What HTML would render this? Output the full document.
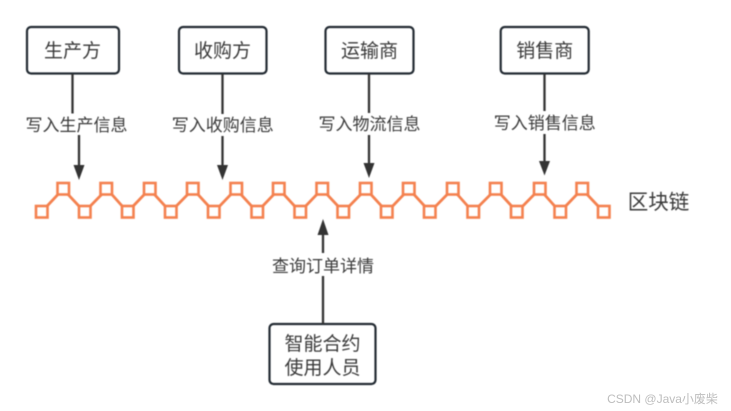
<!DOCTYPE html>
<html>
<head>
<meta charset="utf-8">
<style>
html,body{margin:0;padding:0;background:#fff;}
body{width:731px;height:411px;overflow:hidden;}
svg{display:block;}
text{font-family:"Liberation Sans","Noto Sans CJK SC",sans-serif;fill:#3a3a3a;text-anchor:middle;}
.b{fill:#fff;stroke:#232b33;stroke-width:2.2;}
.l{stroke:#333;stroke-width:2.3;fill:none;}
.h{fill:#333;}
.t{font-size:19px;}
.s{font-size:17px;}
.sq{fill:#fff;stroke:#f4814f;stroke-width:2.6;}
</style>
</head>
<body>
<svg width="731" height="411" viewBox="0 0 731 411" xmlns="http://www.w3.org/2000/svg">
<g style="filter:blur(0.4px)">
<rect class="b" x="27" y="27" width="92" height="46.500" rx="4"/>
<rect class="b" x="179" y="27" width="87.500" height="46.500" rx="4"/>
<rect class="b" x="325.500" y="27" width="88" height="46.500" rx="4"/>
<rect class="b" x="500.700" y="27" width="88" height="46.500" rx="4"/>
<rect class="b" x="269.500" y="324" width="106" height="60" rx="4"/>

<text class="t" x="72.500" y="57">生产方</text>
<text class="t" x="222.500" y="57">收购方</text>
<text class="t" x="369.500" y="57">运输商</text>
<text class="t" x="544.800" y="57">销售商</text>
<text class="t" x="322.500" y="350">智能合约</text>
<text class="t" x="322.500" y="374">使用人员</text>

<path class="l" d="M72.500 74V113.500M79 135V166"/>
<path class="h" d="M73.500 165H84.500L79 180Z"/>
<path class="l" d="M222.500 74V114M222.500 136V166"/>
<path class="h" d="M217 165H228L222.500 180Z"/>
<path class="l" d="M369 74V113M369 135V164"/>
<path class="h" d="M363.500 163H374.500L369 178Z"/>
<path class="l" d="M544.500 74V111M544.500 134V162"/>
<path class="h" d="M539 161H550L544.500 175.500Z"/>
<path class="l" d="M323 233V253M323 276V324"/>
<path class="h" d="M317.500 235H328.500L323 219Z"/>

<text class="s" x="76.500" y="131">写入生产信息</text>
<text class="s" x="222.800" y="131">写入收购信息</text>
<text class="s" x="369.500" y="130">写入物流信息</text>
<text class="s" x="544.800" y="129">写入销售信息</text>
<text class="s" x="323" y="272">查询订单详情</text>
<text x="658.500" y="209" style="font-size:20.500px">区块链</text>

<polyline fill="none" stroke="#f4814f" stroke-width="2.800" points="41.500,212 63,189 84.500,212 107,189 127.500,212 149.500,189 170.500,212 193,189 214,212 236,189 257,212 279,189 300,212 322,189 343.500,212 366,189 387,212 409,189 430,212 452.500,189 473,212 496,189 517,212 539.500,189 560,212 582,189 603.700,212"/>
<g class="sq">
<rect x="36" y="206" width="11.500" height="11.500"/>
<rect x="79" y="206" width="11.500" height="11.500"/>
<rect x="122" y="206" width="11.500" height="11.500"/>
<rect x="165" y="206" width="11.500" height="11.500"/>
<rect x="208" y="206" width="11.500" height="11.500"/>
<rect x="251.500" y="206" width="11.500" height="11.500"/>
<rect x="294.500" y="206" width="11.500" height="11.500"/>
<rect x="337.500" y="206" width="11.500" height="11.500"/>
<rect x="381" y="206" width="11.500" height="11.500"/>
<rect x="424" y="206" width="11.500" height="11.500"/>
<rect x="467.500" y="206" width="11.500" height="11.500"/>
<rect x="511" y="206" width="11.500" height="11.500"/>
<rect x="554.500" y="206" width="11.500" height="11.500"/>
<rect x="598" y="206" width="11.500" height="11.500"/>
<rect x="57.500" y="183" width="11.500" height="11.500"/>
<rect x="100.500" y="183" width="11.500" height="11.500"/>
<rect x="144" y="183" width="11.500" height="11.500"/>
<rect x="187" y="183" width="11.500" height="11.500"/>
<rect x="230.500" y="183" width="11.500" height="11.500"/>
<rect x="273" y="183" width="11.500" height="11.500"/>
<rect x="316.500" y="183" width="11.500" height="11.500"/>
<rect x="360" y="183" width="11.500" height="11.500"/>
<rect x="403" y="183" width="11.500" height="11.500"/>
<rect x="447" y="183" width="11.500" height="11.500"/>
<rect x="490" y="183" width="11.500" height="11.500"/>
<rect x="534" y="183" width="11.500" height="11.500"/>
<rect x="576.500" y="183" width="11.500" height="11.500"/>
</g>
</g>
<text x="662.500" y="403" style="font-size:12px;fill:#bdbdbd">CSDN @Java小废柴</text>
</svg>
</body>
</html>
